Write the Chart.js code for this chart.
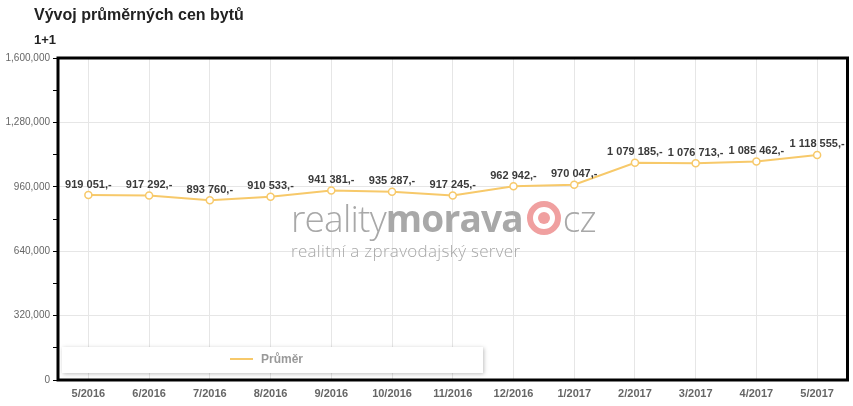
<!DOCTYPE html>
<html>
<head>
<meta charset="utf-8">
<script src="https://cdn.jsdelivr.net/npm/chart.js@4"></script>
<style>
  body { margin: 0; background: #fff; font-family: Arial, "Liberation Sans", sans-serif; }
  #wrap { position: relative; width: 853px; height: 406px; }
  #title { position: absolute; left: 34px; top: 6px; font-size: 16px; font-weight: bold; color: #222; }
  #sub { position: absolute; left: 34px; top: 32px; font-size: 13px; font-weight: bold; color: #222; }
  #mark { position: absolute; left: 291px; top: 198px; color: #a8a8a8; pointer-events: none; z-index: 2; }
  #mark .big { font-size: 37px; line-height: 37px; letter-spacing: -0.8px; white-space: nowrap; }
  #mark .l { font-weight: 300; font-family: "Open Sans", sans-serif; }
  #mark .b { font-weight: bold; font-family: "Open Sans", sans-serif; }
  #mark .dot { display: inline-block; width: 22px; height: 22px; border: 6px solid #f0a0a0; border-radius: 50%; position: relative; top: 3px; margin: 0 2px 0 4px; }
  #mark .dot::after { content: ""; position: absolute; left: 5px; top: 5px; width: 12px; height: 12px; border-radius: 50%; background: #f0a0a0; }
  #mark .small { font-size: 17px; font-family: "Open Sans", sans-serif; font-weight: 300; margin-top: 1px; letter-spacing: 0.3px; }
  canvas { position: absolute; left: 0; top: 0; }
</style>
</head>
<body>
<div id="wrap">
  <canvas id="c" width="853" height="406"></canvas>
  <div id="title">Vývoj průměrných cen bytů</div>
  <div id="sub">1+1</div>
  <div id="mark">
    <div class="big"><span class="l">reality</span><span class="b">morava</span><span class="dot"></span><span class="l">cz</span></div>
    <div class="small">realitní a zpravodajský server</div>
  </div>
</div>
<script>
const months = ['5/2016', '6/2016', '7/2016', '8/2016', '9/2016', '10/2016', '11/2016',
                '12/2016', '1/2017', '2/2017', '3/2017', '4/2017', '5/2017'];
const avgPrice = [919051, 917292, 893760, 910533, 941381, 935287, 917245,
                  962942, 970047, 1079185, 1076713, 1085462, 1118555];
const seriesName = 'Průměr';

const lineColor = '#f7c96a';

function czk(v) {
    return String(v).replace(/\B(?=(\d{3})+(?!\d))/g, ' ') + ',-';
}

// value labels above points + frame + legend box
const extras = {
    id: 'extras',
    afterDatasetsDraw(chart) {
        const ctx = chart.ctx;
        const meta = chart.getDatasetMeta(0);
        ctx.save();
        ctx.font = 'bold 11px Arial, "Liberation Sans"';
        ctx.fillStyle = '#3a3a3a';
        ctx.textAlign = 'center';
        ctx.textBaseline = 'bottom';
        meta.data.forEach((pt, i) => {
            ctx.fillText(czk(avgPrice[i]), pt.x, pt.y - 5);
        });
        ctx.restore();
    },
    afterDraw(chart) {
        const ctx = chart.ctx;
        const a = chart.chartArea;
        ctx.save();
        // legend box
        ctx.shadowColor = 'rgba(0,0,0,0.25)';
        ctx.shadowBlur = 4;
        ctx.shadowOffsetX = 1;
        ctx.shadowOffsetY = 1;
        ctx.fillStyle = '#fff';
        ctx.fillRect(a.left + 4, a.bottom - 33, 421, 26);
        ctx.shadowColor = 'transparent';
        ctx.strokeStyle = lineColor;
        ctx.lineWidth = 2;
        ctx.beginPath();
        ctx.moveTo(a.left + 172, a.bottom - 21);
        ctx.lineTo(a.left + 195, a.bottom - 21);
        ctx.stroke();
        ctx.font = 'bold 12px Arial, "Liberation Sans"';
        ctx.fillStyle = '#999';
        ctx.textBaseline = 'middle';
        ctx.fillText(seriesName, a.left + 203, a.bottom - 20);
        // frame
        ctx.strokeStyle = '#000';
        ctx.lineWidth = 3;
        ctx.strokeRect(a.left, a.top, a.right - a.left, a.bottom - a.top);
        ctx.restore();
    }
};

new Chart(document.getElementById('c'), {
    type: 'line',
    data: {
        labels: months,
        datasets: [{
            label: seriesName,
            data: avgPrice,
            borderColor: lineColor,
            borderWidth: 2,
            backgroundColor: '#fff',
            pointRadius: 3.5,
            pointBorderWidth: 1.5,
            pointBorderColor: lineColor,
            pointBackgroundColor: '#fff',
            tension: 0
        }]
    },
    options: {
        responsive: false,
        animation: false,
        layout: { padding: { top: 58, right: 5, left: 0, bottom: 0 } },
        plugins: { legend: { display: false }, tooltip: { enabled: false } },
        scales: {
            x: {
                offset: true,
                afterFit(s) { s.height = 26; },
                grid: { color: '#e6e6e6', drawTicks: false, offset: false },
                border: { display: false },
                ticks: { color: '#666', font: { size: 11, weight: 'bold', family: 'Arial' }, padding: 7, maxRotation: 0 }
            },
            y: {
                min: 0,
                max: 1600000,
                afterFit(s) { s.width = 58; },
                afterBuildTicks(s) {
                    const t = [];
                    for (let v = 0; v <= 1600000; v += 160000) t.push({ value: v });
                    s.ticks = t;
                },
                grid: {
                    color: c => (c.tick && c.tick.value % 320000 === 0) ? '#e6e6e6' : 'rgba(0,0,0,0)',
                    tickColor: '#000',
                    tickLength: 5,
                    drawTicks: true
                },
                border: { display: false },
                ticks: {
                    color: '#666',
                    font: { size: 10, family: 'Arial' },
                    padding: 3,
                    callback: v => v % 320000 === 0 ? v.toLocaleString('en-US') : ''
                }
            }
        }
    },
    plugins: [extras]
});
</script>
</body>
</html>
